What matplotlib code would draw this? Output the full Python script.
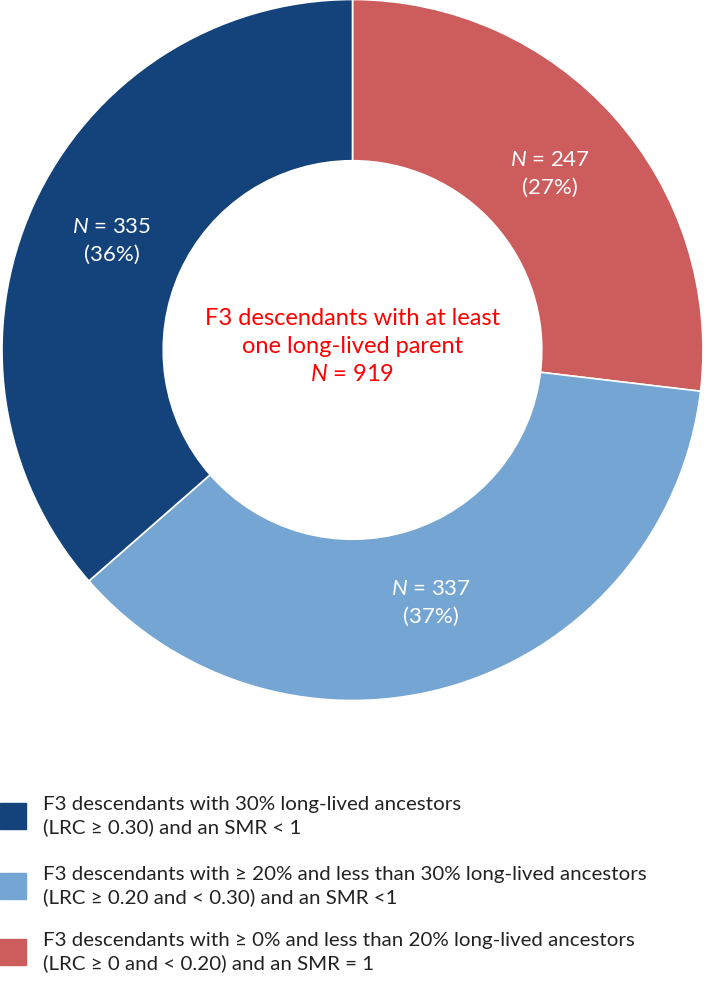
import numpy as np
import matplotlib
matplotlib.use("Agg")
import matplotlib.pyplot as plt
from matplotlib.patches import Rectangle

plt.rcParams["font.family"] = ["Lato", "DejaVu Sans"]
plt.rcParams["mathtext.fontset"] = "custom"
plt.rcParams["mathtext.it"] = "Lato:italic"
plt.rcParams["mathtext.rm"] = "Lato"

# data (clockwise from the top)
counts = [247, 337, 335]
colors = ["#CD5D5D", "#75A5D3", "#13437A"]
total = 919
center_lines = ["F3 descendants with at least", "one long-lived parent", "$\\it{N}$ = 919"]
legend_labels = [
    "F3 descendants with 30% long-lived ancestors\n(LRC ≥ 0.30) and an SMR < 1",
    "F3 descendants with ≥ 20% and less than 30% long-lived ancestors\n(LRC ≥ 0.20 and < 0.30) and an SMR <1",
    "F3 descendants with ≥ 0% and less than 20% long-lived ancestors\n(LRC ≥ 0 and < 0.20) and an SMR = 1",
]
legend_colors = ["#13437A", "#75A5D3", "#CD5D5D"]

W, H = 709, 981
fig = plt.figure(figsize=(W / 100, H / 100), dpi=100)

# donut
cx, cy, r = 352.5, 350, 350.5
ax = fig.add_axes([(cx - r) / W, (H - cy - r) / H, 2 * r / W, 2 * r / H])
wedges, _ = ax.pie(counts, colors=colors, startangle=90, counterclock=False,
                   radius=1.0,
                   wedgeprops=dict(width=0.46, edgecolor="white", linewidth=1.2))
ax.set_xlim(-1, 1)
ax.set_ylim(-1, 1)
ax.set_aspect("equal")
ax.axis("off")

for w, n in zip(wedges, counts):
    mid = np.deg2rad((w.theta1 + w.theta2) / 2)
    x, y = 0.755 * np.cos(mid), 0.755 * np.sin(mid)
    pct = round(100 * n / total)
    ax.text(x, y, f"$\\it{{N}}$ = {n}\n({pct}%)", color="white", fontsize=16,
            ha="center", va="center", linespacing=1.5, multialignment="center")

ax.text(0, 0.009, "\n".join(center_lines), color="#FF0000", fontsize=17,
        ha="center", va="center", linespacing=1.42, multialignment="center")

# legend
leg_y = [816, 886, 952]
for yy, lab, col in zip(leg_y, legend_labels, legend_colors):
    fig.patches.append(Rectangle((0, (H - yy - 13) / H), 26 / W, 26 / H,
                                 transform=fig.transFigure, color=col))
    fig.text(43 / W, (H - yy) / H, lab, fontsize=14.75, color="#222222",
             ha="left", va="center", linespacing=1.3)

fig.savefig("out.png", dpi=100)
